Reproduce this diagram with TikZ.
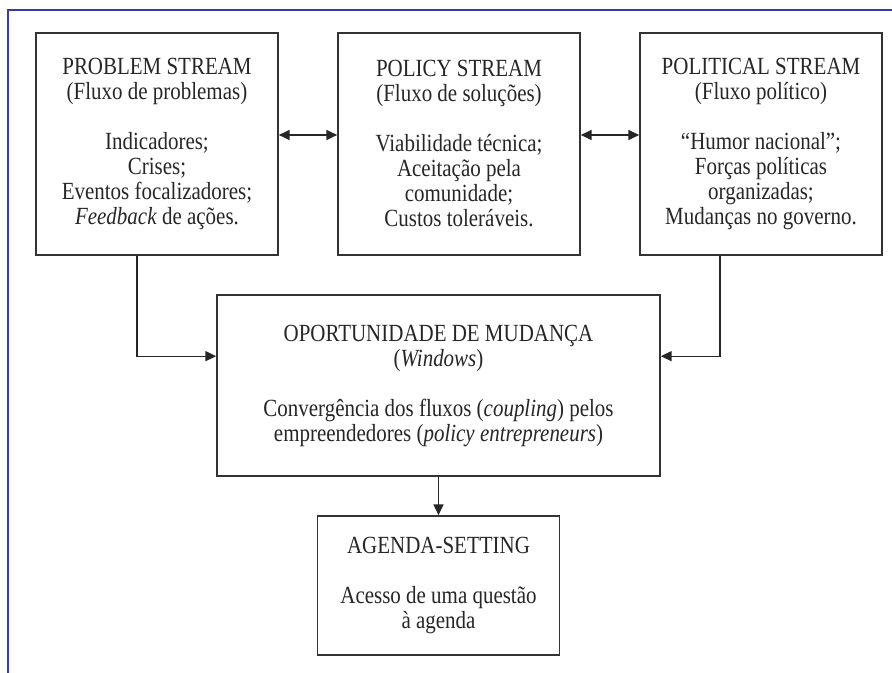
\documentclass[tikz,border=0pt]{standalone}
\usepackage{fontspec}
\setmainfont{Liberation Serif}[FakeStretch=0.85]
\usetikzlibrary{arrows.meta}
\definecolor{frameblue}{RGB}{55,60,165}
\tikzset{
  streambox/.style={draw=black!80, line width=1.3pt, align=center, text=black!85,
    minimum width=181.5pt, minimum height=166.5pt, inner sep=0pt},
  link/.style={draw=black!85, line width=0.9pt},
  >={Triangle[length=8pt,width=7.5pt]},
}
\begin{document}
\begin{tikzpicture}[x=0.75pt,y=-0.75pt, font=\fontsize{18.5}{18.75}\selectfont]
\useasboundingbox (0,0) rectangle (892,673);
\def\gap{\\[18.75pt]}
\def\row{144}
% frame
\draw[frameblue, line width=1.6pt] (8,673) -- (8,10) -- (892,10);

\node[streambox] (problem) at (157,\row) {PROBLEM STREAM\\(Fluxo de problemas)\gap Indicadores;\\Crises;\\Eventos focalizadores;\\\textit{Feedback} de ações.};
\node[streambox] (policy) at (459,\row) {POLICY STREAM\\(Fluxo de soluções)\gap Viabilidade técnica;\\Aceitação pela\\comunidade;\\Custos toleráveis.};
\node[streambox] (political) at (761,\row) {POLITICAL STREAM\\(Fluxo político)\gap “Humor nacional”;\\Forças políticas\\organizadas;\\Mudanças no governo.};
\node[streambox, minimum width=332.25pt, minimum height=135.75pt] (window) at (438.5,385.5) {OPORTUNIDADE DE MUDANÇA\\(\textit{Windows})\gap Convergência dos fluxos (\textit{coupling}) pelos\\empreendedores (\textit{policy entrepreneurs})};
\node[streambox, minimum height=104.25pt] (agenda) at (438.5,585.5) {AGENDA-SETTING\gap Acesso de uma questão\\à agenda};

% edges
\draw[link, <->] ([yshift=6.75pt]problem.east) -- ([yshift=6.75pt]policy.west);
\draw[link, <->] ([yshift=6.75pt]policy.east) -- ([yshift=6.75pt]political.west);
\draw[link, ->] ([xshift=-15pt]problem.south) |- ([yshift=22pt]window.west); % problem to window
\draw[link, ->] ([xshift=-30.75pt]political.south) |- ([yshift=22pt]window.east); % political to window
\draw[link, ->] (window) -- (agenda);
\end{tikzpicture}
\end{document}
